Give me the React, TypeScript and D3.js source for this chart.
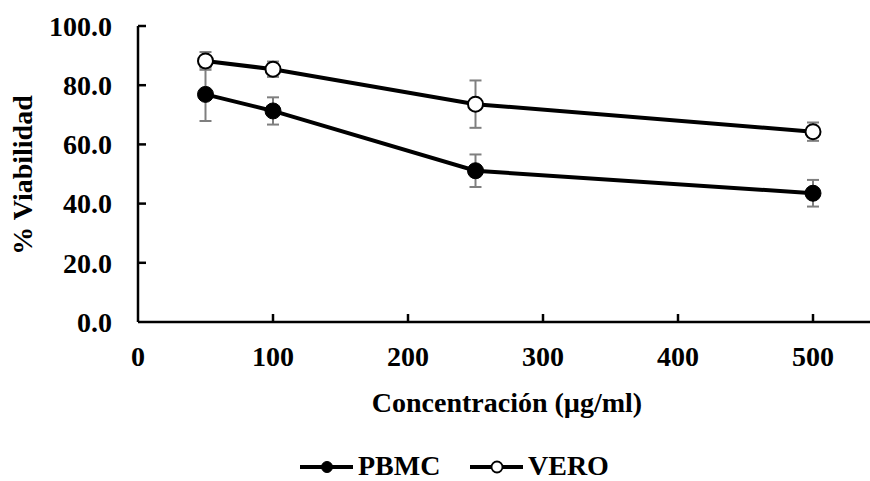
import React from "react";
import * as d3 from "d3";

const concentrations = [50, 100, 250, 500];
const pbmcValues = [76.9, 71.3, 51.1, 43.5];
const pbmcErrors = [9.0, 4.6, 5.5, 4.5];
const veroValues = [88.2, 85.4, 73.6, 64.3];
const veroErrors = [3.0, 2.6, 8.0, 3.1];
const xTicks = [0, 100, 200, 300, 400, 500];
const yTicks = [0, 20, 40, 60, 80, 100];
const seriesNames = ["PBMC", "VERO"];

const W = 870;
const H = 481;
const FONT = "'Liberation Serif', 'Times New Roman', serif";

export default function App() {
  const x = d3.scaleLinear().domain([0, 600]).range([138, 948]);
  const y = d3.scaleLinear().domain([0, 100]).range([322, 26]);
  const line = d3
    .line<number>()
    .x((_, i) => x(concentrations[i]))
    .y((d) => y(d));

  const series = [
    { name: seriesNames[0], values: pbmcValues, errors: pbmcErrors, fill: "#000" },
    { name: seriesNames[1], values: veroValues, errors: veroErrors, fill: "#fff" },
  ];

  const cap = 6;

  return (
    <svg
      width={W}
      height={H}
      style={{ position: "absolute", left: 0, top: 0, background: "#fff" }}
      fontFamily={FONT}
      fontWeight="bold"
    >
      <rect width={W} height={H} fill="#fff" />
      {/* axes */}
      <line x1={x(0)} x2={W} y1={y(0)} y2={y(0)} stroke="#000" strokeWidth={2.5} />
      <line x1={x(0)} x2={x(0)} y1={y(0)} y2={y(100)} stroke="#000" strokeWidth={2.5} />
      {yTicks.map((t) => (
        <g key={"y" + t}>
          {t > 0 && (
            <line x1={x(0)} x2={x(0) + 8} y1={y(t)} y2={y(t)} stroke="#000" strokeWidth={2.5} />
          )}
          <text x={112} y={y(t)} dy="0.35em" textAnchor="end" fontSize={28}>
            {t.toFixed(1)}
          </text>
        </g>
      ))}
      {xTicks.map((t) => (
        <g key={"x" + t}>
          {t > 0 && (
            <line x1={x(t)} x2={x(t)} y1={y(0)} y2={y(0) - 8} stroke="#000" strokeWidth={2.5} />
          )}
          <text x={x(t)} y={366} textAnchor="middle" fontSize={28}>
            {t}
          </text>
        </g>
      ))}
      <text x={507} y={412} textAnchor="middle" fontSize={28}>
        Concentración (µg/ml)
      </text>
      <text
        transform={`translate(32,175) rotate(-90)`}
        textAnchor="middle"
        fontSize={28}
      >
        % Viabilidad
      </text>

      {/* error bars */}
      {series.map((s) =>
        s.values.map((v, i) => {
          const cx = x(concentrations[i]);
          const top = y(v + s.errors[i]);
          const bot = y(v - s.errors[i]);
          return (
            <g key={s.name + "e" + i} stroke="#7f7f7f" strokeWidth={2}>
              <line x1={cx} x2={cx} y1={top} y2={bot} />
              <line x1={cx - cap} x2={cx + cap} y1={top} y2={top} />
              <line x1={cx - cap} x2={cx + cap} y1={bot} y2={bot} />
            </g>
          );
        })
      )}
      {/* lines */}
      {series.map((s) => (
        <path key={s.name + "l"} d={line(s.values) || ""} fill="none" stroke="#000" strokeWidth={4} />
      ))}
      {/* markers */}
      {series.map((s) =>
        s.values.map((v, i) => (
          <circle
            key={s.name + "m" + i}
            cx={x(concentrations[i])}
            cy={y(v)}
            r={s.fill === "#000" ? 8 : 7.5}
            fill={s.fill}
            stroke="#000"
            strokeWidth={s.fill === "#000" ? 1 : 2}
          />
        ))
      )}

      {/* legend */}
      {series.map((s, i) => {
        const x0 = i === 0 ? 300 : 470;
        const lx = x0 + 53;
        const cy = 467;
        return (
          <g key={s.name + "leg"}>
            <line x1={x0} x2={lx} y1={cy} y2={cy} stroke="#000" strokeWidth={4} />
            <circle
              cx={x0 + 27}
              cy={cy}
              r={5.5}
              fill={s.fill}
              stroke="#000"
              strokeWidth={s.fill === "#000" ? 1 : 1.8}
            />
            <text x={lx + 5} y={475} fontSize={28}>
              {s.name}
            </text>
          </g>
        );
      })}
    </svg>
  );
}
